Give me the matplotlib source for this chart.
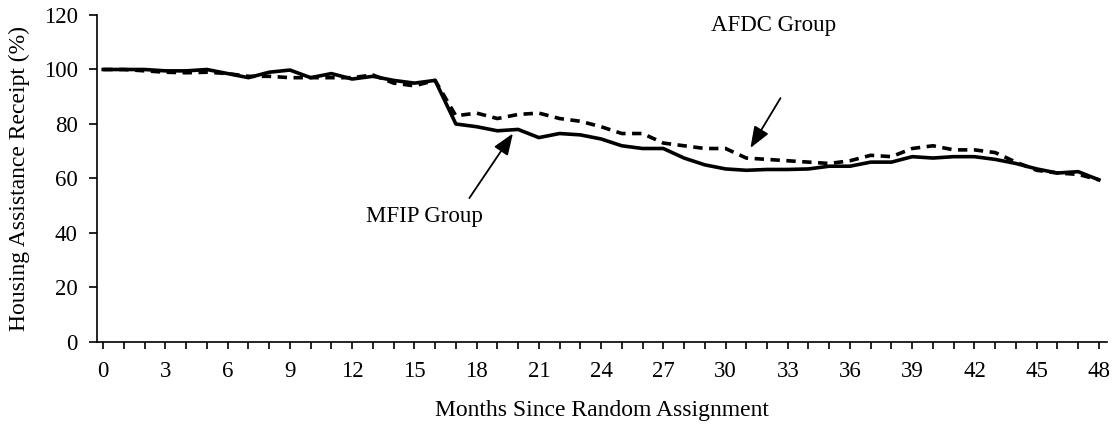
import numpy as np
import matplotlib.pyplot as plt
from matplotlib.ticker import MultipleLocator

plt.rcParams['font.family'] = ['Liberation Serif', 'DejaVu Serif']

months = list(range(49))
mfip = [100, 100, 100, 99.5, 99.5, 100, 98.5, 97, 99, 99.8,
        97, 98.5, 96.5, 97.5, 96, 95, 96, 80, 79, 77.5,
        78, 75, 76.5, 76, 74.5, 72, 71, 71, 67.5, 65,
        63.5, 63, 63.3, 63.3, 63.5, 64.5, 64.5, 66, 66, 68,
        67.5, 68, 68, 67, 65.5, 63.5, 62, 62.5, 59.5]
afdc = [100, 100, 99.5, 99, 98.8, 99, 98.5, 97.5, 97.5, 97,
        97, 97, 97, 98, 95, 94, 96, 83, 84, 82,
        83.5, 84, 82, 81, 79, 76.5, 76.5, 73, 72, 71,
        71, 67.5, 67, 66.5, 66, 65.5, 66.5, 68.5, 68, 71,
        72, 70.5, 70.5, 69.5, 66, 63, 62, 61.5, 59.5]

fig = plt.figure(figsize=(11.15, 4.29), dpi=100)
ax = fig.add_axes([0.087, 0.203, 0.906, 0.762])

ax.plot(months, afdc, color='black', lw=2.6, ls=(0, (2.6, 1.8)))
ax.plot(months, mfip, color='black', lw=2.6)

ax.set_xlim(-0.3, 48.4)
ax.set_ylim(0, 120)
ax.xaxis.set_major_locator(MultipleLocator(3))
ax.xaxis.set_minor_locator(MultipleLocator(1))
ax.yaxis.set_major_locator(MultipleLocator(20))
ax.tick_params(axis='x', which='both', direction='out', length=5, width=1.2, labelsize=16.5, pad=9)
ax.tick_params(axis='y', direction='out', length=6, width=1.2, labelsize=16.5, pad=8)
for s in ['top', 'right']:
    ax.spines[s].set_visible(False)
for s in ['left', 'bottom']:
    ax.spines[s].set_linewidth(1.2)

ax.set_xlabel('Months Since Random Assignment', fontsize=17, labelpad=13)
ax.set_ylabel('Housing Assistance Receipt (%)', fontsize=17, labelpad=10)

arrow = dict(arrowstyle='-|>,head_length=1.3,head_width=0.5', color='black', lw=1.3, shrinkA=0, shrinkB=0)
ax.text(15.5, 46, 'MFIP Group', fontsize=16.5, ha='center', va='center')
ax.annotate('', xy=(19.75, 76.5), xytext=(17.65, 52.8), arrowprops=arrow)
ax.text(32.3, 116.3, 'AFDC Group', fontsize=16.5, ha='center', va='center')
ax.annotate('', xy=(31.2, 71.2), xytext=(32.65, 89.5), arrowprops=arrow)

fig.savefig('out.png', dpi=100)
